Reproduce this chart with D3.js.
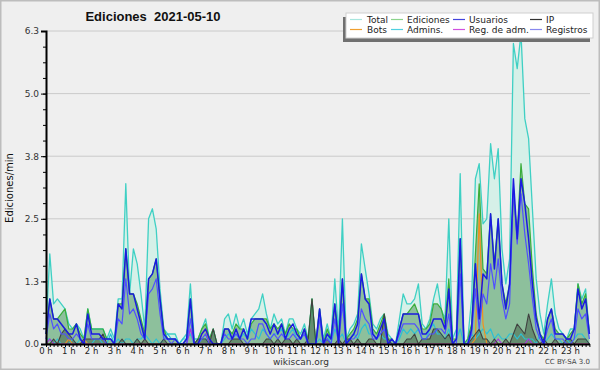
<!DOCTYPE html>
<html>
<head>
    <style>
        body { margin: 0; background: #fff; }
        svg { display: block; font-family: "DejaVu Sans", sans-serif; }
    </style>
    <script src="https://d3js.org/d3.v7.min.js"></script>
</head>
<body>
    <svg width="600" height="370"></svg>
    <script>

        // etiquetas de horas, un punto cada 10 minutos (6 por hora)
        var hours = ["0 h","1 h","2 h","3 h","4 h","5 h","6 h","7 h","8 h","9 h","10 h","11 h",
                     "12 h","13 h","14 h","15 h","16 h","17 h","18 h","19 h","20 h","21 h","22 h","23 h"];
        var yTicks = [0, 1.25, 2.5, 3.75, 5, 6.25];
        var yTickLabels = ["0.0", "1.3", "2.5", "3.8", "5.0", "6.3"];

        var total = [
            0.3,1.8,0.8,0.9,0.8,0.7, 0.4,0.3,0.4,0.3,0.1,0.7, 0.3,0.3,0.3,0.3,0.1,0.3, 0.1,0.9,0.9,3.2,1.0,1.9,
            1.6,1.0,0.3,2.5,2.7,2.3, 1.1,0.3,0.2,0.2,0.2,0.0, 0.1,0.2,1.2,0.1,0.1,0.3, 0.5,0.1,0.3,0.0,0.0,0.5,
            0.6,0.3,0.6,0.3,0.5,0.2, 0.5,0.6,0.7,1.0,0.6,0.3, 0.6,0.4,0.5,0.2,0.5,0.5, 0.3,0.2,0.4,0.1,0.9,0.0,
            0.7,0.1,0.4,0.1,1.3,0.2, 2.5,0.1,0.3,0.4,0.6,2.0, 1.5,1.0,0.4,0.3,0.5,0.6, 0.2,0.1,0.0,0.5,1.0,0.8,
            0.8,0.9,1.2,0.4,0.3,0.5, 0.9,1.2,0.7,0.5,2.5,0.1, 0.3,3.4,0.0,0.1,0.9,3.3, 3.6,2.4,2.5,4.0,3.3,3.9,
            1.9,1.2,1.7,6.0,5.5,6.2, 4.5,4.1,2.7,1.3,0.6,0.2, 0.8,1.3,0.6,0.3,0.2,0.1, 0.3,0.3,1.2,0.9,1.1,0.2
        ];
        var ediciones = [
            0.2,0.9,0.5,0.5,0.6,0.7, 0.3,0.3,0.4,0.2,0.1,0.7, 0.3,0.3,0.3,0.3,0.1,0.1, 0.0,0.8,0.8,1.9,1.0,1.0,
            0.8,0.5,0.2,1.3,1.4,1.7, 0.9,0.3,0.1,0.1,0.1,0.0, 0.0,0.1,0.9,0.0,0.1,0.3, 0.4,0.1,0.3,0.0,0.0,0.3,
            0.3,0.2,0.4,0.3,0.3,0.1, 0.4,0.5,0.5,0.5,0.5,0.3, 0.4,0.3,0.4,0.2,0.4,0.3, 0.3,0.1,0.3,0.1,0.9,0.0,
            0.7,0.0,0.3,0.1,0.8,0.1, 1.3,0.1,0.2,0.3,0.5,1.4, 0.9,0.9,0.3,0.2,0.4,0.6, 0.1,0.1,0.0,0.3,0.6,0.6,
            0.7,0.8,0.6,0.3,0.3,0.4, 0.8,0.8,0.7,0.4,1.3,0.1, 0.1,2.1,0.0,0.1,0.4,1.8, 3.2,1.5,1.4,2.6,1.6,2.5,
            1.2,0.8,1.2,3.0,2.2,3.6, 2.8,2.7,1.5,0.6,0.2,0.1, 0.5,0.7,0.3,0.2,0.2,0.1, 0.2,0.3,1.2,0.8,1.0,0.2
        ];
        var usuarios = [
            0.2,0.9,0.5,0.5,0.4,0.3, 0.2,0.2,0.4,0.1,0.0,0.6, 0.2,0.2,0.2,0.1,0.1,0.1, 0.0,0.8,0.7,1.9,1.0,1.0,
            0.7,0.4,0.1,1.3,1.4,1.7, 0.9,0.2,0.1,0.1,0.1,0.0, 0.0,0.1,0.9,0.0,0.0,0.2, 0.3,0.1,0.0,0.0,0.0,0.3,
            0.3,0.1,0.3,0.1,0.3,0.1, 0.5,0.5,0.5,0.5,0.4,0.2, 0.4,0.2,0.4,0.1,0.3,0.4, 0.2,0.1,0.3,0.0,0.0,0.0,
            0.7,0.0,0.2,0.1,0.8,0.0, 1.3,0.0,0.1,0.2,0.4,1.4, 0.9,0.8,0.2,0.1,0.3,0.5, 0.0,0.1,0.0,0.3,0.6,0.6,
            0.6,0.6,0.6,0.2,0.2,0.3, 0.5,0.5,0.5,0.3,1.1,0.0, 0.1,2.1,0.0,0.0,0.3,1.6, 0.5,1.4,1.3,2.6,1.5,2.5,
            1.2,0.7,1.2,3.3,2.1,3.3, 2.8,2.1,1.2,0.5,0.2,0.0, 0.5,0.7,0.2,0.2,0.2,0.1, 0.1,0.3,1.1,0.7,0.9,0.2
        ];
        var registros = [
            0.1,0.6,0.3,0.4,0.2,0.2, 0.1,0.1,0.2,0.1,0.0,0.4, 0.1,0.1,0.1,0.1,0.0,0.0, 0.0,0.5,0.4,1.3,0.6,0.7,
            0.5,0.2,0.1,1.0,1.1,1.3, 0.6,0.1,0.1,0.0,0.1,0.0, 0.0,0.0,0.5,0.0,0.0,0.1, 0.2,0.0,0.0,0.0,0.0,0.2,
            0.1,0.1,0.2,0.1,0.1,0.0, 0.1,0.1,0.4,0.4,0.2,0.1, 0.2,0.1,0.2,0.1,0.1,0.2, 0.1,0.1,0.2,0.0,0.0,0.0,
            0.5,0.0,0.1,0.0,0.5,0.0, 0.8,0.0,0.1,0.1,0.2,0.7, 0.5,0.4,0.1,0.1,0.2,0.3, 0.0,0.0,0.0,0.2,0.4,0.4,
            0.4,0.4,0.3,0.1,0.1,0.2, 0.2,0.3,0.3,0.2,0.6,0.0, 0.0,1.4,0.0,0.0,0.2,1.1, 0.3,1.0,0.8,1.6,1.1,1.7,
            0.9,0.5,0.8,3.1,2.0,3.0, 2.2,1.6,0.9,0.3,0.1,0.0, 0.3,0.5,0.1,0.1,0.1,0.0, 0.0,0.1,0.7,0.5,0.6,0.1
        ];
        var ip = [
            0,0,0.1,0,0.2,0.3, 0.2,0.1,0,0,0.1,0.1, 0.1,0.1,0.1,0.2,0,0, 0,0,0.1,0,0,0,
            0.1,0,0.1,0,0,0, 0,0.1,0,0,0,0, 0,0,0,0,0.1,0.1, 0.1,0,0.3,0,0,0,
            0,0.1,0.1,0.1,0,0, 0,0,0,0,0.1,0.1, 0,0.1,0,0.1,0.1,0, 0.1,0,0,0.1,0.9,0,
            0,0,0.1,0,0,0.1, 0,0.1,0.1,0,0.1,0, 0,0.1,0.1,0,0,0.6, 0.1,0,0,0,0,0.1,
            0.1,0.2,0,0.1,0.1,0.1, 0.3,0.3,0.2,0.1,0.2,0, 0,0,0,0,0.1,0.2, 0.3,0.1,0.1,0,0.1,0,
            0,0.1,0,0.2,0.4,0.3, 0.2,0.6,0.3,0.1,0,0.1, 0,0,0.1,0,0,0.1, 0.1,0,0.1,0.1,0.1,0
        ];
        var bots = [
            0,0,0,0,0,0, 0.1,0,0,0,0.1,0, 0,0,0,0,0,0, 0,0,0,0,0,0,
            0,0,0,0,0,0, 0,0,0,0,0,0, 0,0,0,0,0,0.2, 0.3,0,0,0,0,0,
            0,0,0,0,0,0, 0,0,0,0,0,0, 0,0,0,0,0,0, 0,0,0,0,0,0,
            0,0,0,0,0,0, 0,0,0,0,0,0, 0,0,0,0,0,0, 0,0,0,0,0,0,
            0,0,0,0,0,0, 0,0,0,0,0,0, 0,0,0,0,0,0.1, 2.6,0.4,0,0,0,0,
            0,0,0,0,0,0, 0,0,0,0,0,0, 0,0,0,0,0,0, 0,0,0,0,0,0
        ];
        var admins = [
            0.1,0.1,0,0.1,0,0, 0,0.1,0,0.1,0.1,0, 0,0.1,0.1,0,0,0.2, 0,0.1,0,0.1,0.1,0,
            0.1,0.1,0.2,0.1,0,0.1, 0,0.1,0.2,0.1,0.1,0, 0.1,0.1,0.2,0,0,0.1, 0.1,0,0,0,0,0.1,
            0.2,0.1,0.2,0.1,0.2,0.1, 0.3,0.2,0.1,0.3,0.2,0.1, 0.2,0.2,0.3,0.1,0.2,0.3, 0.1,0.1,0.2,0,0,0,
            0.1,0,0.2,0,0.3,0.1, 0.2,0,0.1,0.2,0.1,0.3, 0.4,0.2,0.2,0.1,0.2,0.1, 0.1,0,0,0.1,0.3,0.2,
            0.3,0.2,0.3,0.1,0.1,0.3, 0.4,0.2,0.2,0.1,0.3,0, 0.1,0.3,0,0,0.2,0.1, 0.2,0.3,0.2,0.3,0.1,0.2,
            0.1,0.1,0.2,0.2,0.1,0.2, 0.1,0.1,0.1,0,0.2,0, 0.1,0.2,0.1,0.1,0,0.1, 0,0.1,0.2,0.2,0.1,0
        ];
        var regAdm = [
            0,0.1,0,0,0,0, 0,0,0,0,0,0, 0,0,0,0,0,0, 0,0,0,0,0,0,
            0,0,0,0,0,0, 0,0,0,0,0,0, 0,0,0.3,0,0,0, 0,0,0,0,0,0,
            0,0,0,0,0,0, 0,0,0,0,0,0, 0,0,0,0,0,0, 0,0,0,0,0,0,
            0,0,0,0,0,0, 0,0,0,0,0,0, 0,0,0,0,0,0, 0,0,0,0,0,0,
            0,0,0,0,0,0, 0,0,0,0,0,0, 0,0,0,0,0,0, 0,0,0,0,0,0.1,
            0,0,0,0,0,0, 0,0.1,0,0,0,0, 0,0,0,0,0,0, 0,0,0,0,0,0
        ];

        var legendNames = ["Total", "Ediciones", "Usuarios", "IP", "Bots", "Admins.", "Reg. de adm.", "Registros"];
        var legendColors = ["#a8e6de", "#8cd48c", "#4444dd", "#333333", "#f0a030", "#50d0e0", "#d050e0", "#8888ee"];

        var svg = d3.select("svg");

        // fondo y marco
        svg.append("rect").attr("x", 0.5).attr("y", 0.5).attr("width", 599).attr("height", 369)
            .attr("fill", "#efefef").attr("stroke", "#bdbdbd").attr("stroke-width", 2);

        var x = d3.scaleLinear().domain([0, total.length - 1]).range([46, 589.4]);
        var y = d3.scaleLinear().domain([0, 6.25]).range([344, 31]);

        // lineas de la grilla
        svg.append("g").selectAll("line")
            .data(yTicks.slice(1))
            .enter().append("line")
            .attr("x1", 46).attr("x2", 590)
            .attr("y1", function(d) { return y(d); })
            .attr("y2", function(d) { return y(d); })
            .attr("stroke", "#cacaca").attr("stroke-width", 1);

        function area(vals) {
            return d3.area()
                .x(function(d, i) { return x(i); })
                .y0(y(0))
                .y1(function(d) { return y(d); })(vals);
        }
        function line(vals) {
            return d3.line()
                .x(function(d, i) { return x(i); })
                .y(function(d) { return y(d); })(vals);
        }

        var plot = svg.append("g");
        plot.append("path").attr("d", area(total)).attr("fill", "#d6f0e8");
        plot.append("path").attr("d", area(ediciones)).attr("fill", "rgba(91,160,105,0.6)");
        plot.append("path").attr("d", area(ip)).attr("fill", "rgba(30,45,30,0.35)");

        var series = [
            { v: total,     c: "#3fd0c4", w: 1.3 },
            { v: ediciones, c: "#3aad3a", w: 1.2 },
            { v: admins,    c: "#2cc0d4", w: 1.2 },
            { v: bots,      c: "#f09020", w: 1.2 },
            { v: regAdm,    c: "#b030e0", w: 1.2 },
            { v: ip,        c: "#404040", w: 1.1 },
            { v: registros, c: "#5050ff", w: 1.2 },
            { v: usuarios,  c: "#1a1ae0", w: 1.5 }
        ];
        series.forEach(function(s) {
            plot.append("path").attr("d", line(s.v))
                .attr("fill", "none").attr("stroke", s.c)
                .attr("stroke-width", s.w).attr("stroke-linejoin", "round");
        });

        // eje y
        var yAxis = svg.append("g").attr("transform", "translate(46,0)")
            .call(d3.axisLeft(y).tickValues(yTicks)
                .tickFormat(function(d, i) { return yTickLabels[i]; })
                .tickSize(5).tickPadding(2));
        svg.append("g").attr("transform", "translate(46,0)")
            .call(d3.axisLeft(y).tickValues(d3.range(0, 6.26, 0.3125)).tickFormat("").tickSize(3))
            .select(".domain").remove();
        yAxis.select(".domain").attr("stroke-width", 2);
        yAxis.selectAll("text").attr("font-size", 9).attr("fill", "#333")
            .attr("font-family", "DejaVu Sans");

        // eje x
        var xAxis = svg.append("g").attr("transform", "translate(0,344)")
            .call(d3.axisBottom(x).tickValues(d3.range(0, total.length)).tickFormat("").tickSize(3).tickSizeOuter(0));
        xAxis.select(".domain").attr("stroke-width", 2);
        svg.append("g").selectAll("text")
            .data(hours)
            .enter().append("text")
            .attr("x", function(d, i) { return x(i * 6); })
            .attr("y", 354)
            .attr("text-anchor", "middle")
            .attr("font-size", 8.5).attr("fill", "#222")
            .text(function(d) { return d; });

        // titulos
        svg.append("text").attr("x", 153).attr("y", 21).attr("text-anchor", "middle")
            .attr("font-family", "Liberation Sans").attr("font-weight", "bold").attr("font-size", 13)
            .style("white-space", "pre")
            .attr("fill", "#111").text("Ediciones  2021-05-10");
        svg.append("text").attr("transform", "translate(13,188) rotate(-90)")
            .attr("text-anchor", "middle").attr("font-size", 10).attr("fill", "#111")
            .text("Ediciones/min");
        svg.append("text").attr("x", 301).attr("y", 365).attr("text-anchor", "middle")
            .attr("font-size", 9).attr("fill", "#333").text("wikiscan.org");
        svg.append("text").attr("x", 590).attr("y", 364).attr("text-anchor", "end")
            .attr("font-size", 7).attr("fill", "#444").text("CC BY-SA 3.0");

        // leyenda
        var lg = svg.append("g");
        lg.append("rect").attr("x", 343).attr("y", 17).attr("width", 247).attr("height", 25).attr("fill", "#707070");
        lg.append("rect").attr("x", 346).attr("y", 13).attr("width", 247).attr("height", 25)
            .attr("fill", "#fff").attr("stroke", "#cfcfcf");
        var colX = [350, 391, 453, 530];
        var item = lg.selectAll(".item")
            .data(legendNames)
            .enter().append("g").attr("class", "item")
            .attr("transform", function(d, i) {
                return "translate(" + colX[i % 4] + "," + (19.5 + Math.floor(i / 4) * 10) + ")";
            });
        item.append("line").attr("x1", 0).attr("x2", 12).attr("y1", 0).attr("y2", 0)
            .attr("stroke", function(d, i) { return legendColors[i]; }).attr("stroke-width", 1.2);
        item.append("text").attr("x", function(d, i) { return i % 4 === 0 ? 17 : 16; }).attr("y", 3.5)
            .attr("font-size", 9).attr("fill", "#222")
            .text(function(d) { return d; });

    </script>
</body>
</html>
